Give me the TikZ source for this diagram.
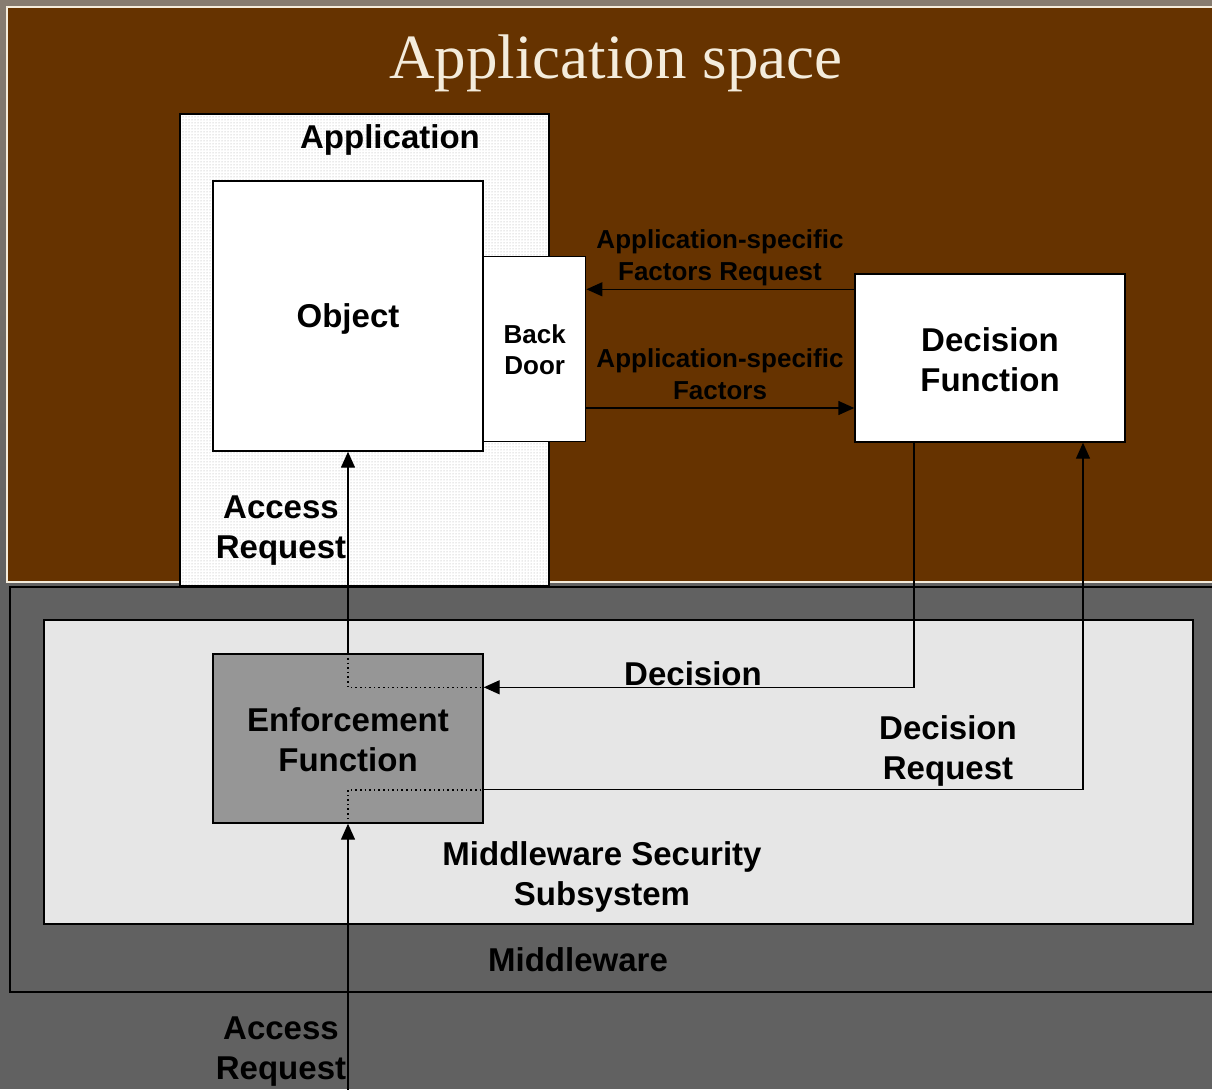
\documentclass[tikz,border=0pt]{standalone}
\usepackage{fontspec}
\setmainfont{Liberation Serif}
\newfontfamily\labelfont{Liberation Sans}
\usetikzlibrary{arrows.meta}
\usetikzlibrary{patterns}
\usetikzlibrary{positioning}
\definecolor{appbrown}{HTML}{663300}
\definecolor{mwgray}{HTML}{616161}
\definecolor{topgray}{HTML}{877C70}
\definecolor{subgray}{HTML}{E6E6E6}
\definecolor{enfgray}{HTML}{969696}
\definecolor{cream}{HTML}{F4ECDC}
\tikzset{
  box/.style={draw=black, line width=1.4pt, fill=white, inner sep=0pt},
  biglabel/.style={font=\labelfont\bfseries\fontsize{33}{40}\selectfont, align=center, text=black, inner sep=0pt},
  smalllabel/.style={font=\labelfont\bfseries\fontsize{26}{31.5}\selectfont, align=center, text=black, inner sep=0pt},
  arr/.style={line width=1.4pt, -{Triangle[length=16pt,width=14pt]}},
  dotline/.style={line width=1.6pt, dash pattern=on 1.6pt off 3pt}
}

\begin{document}
\begin{tikzpicture}[x=1pt,y=-1pt]
    \useasboundingbox (0,0) rectangle (1212,1089);
    \clip (0,0) rectangle (1212,1089);
    % background and the two spaces
    \fill[mwgray] (0,0) rectangle (1212,1089);
    \shade[top color=topgray, bottom color=mwgray] (0,0) rectangle (1212,585);
    \draw[cream, line width=1.5pt, fill=appbrown] (7,7) rectangle (1230,582);
    \node[font=\fontsize{63}{70}\selectfont, text=cream] (title) at (616,63) {Application space};

    \draw[black, line width=1.4pt, fill=mwgray] (10,587) rectangle (1230,992);
    \node[box, fill=subgray, minimum width=1149pt, minimum height=304pt] (mss) at (618.5,772) {};
    \node[biglabel] (mwlabel) at (578,960) {Middleware};
    \node[biglabel] (msslabel) at (602,877) {Middleware Security\\Subsystem};

    % application with object and back door
    \node[box, preaction={fill=white}, pattern=dots, pattern color=gray!70,
          minimum width=369pt, minimum height=472pt] (app) at (364.5,350) {};
    \node[biglabel] (applabel) at (390,140) {Application};
    \node[box, minimum width=270pt, minimum height=270pt] (obj) at (348,316) {};
    \node[biglabel] at ([yshift=-3pt]obj.center) {Object};
    \node[box, minimum width=102pt, minimum height=185pt, anchor=south west] (bd) at (483,442) {};
    \node[smalllabel] at ([yshift=-1pt]bd.center) {Back\\Door};

    \node[box, minimum width=270pt, minimum height=168pt] (decf) at (990,358) {};
    \node[biglabel] at ([yshift=-2pt]decf.center) {Decision\\Function};

    \node[box, fill=enfgray, minimum width=270pt, minimum height=169pt] (enf) at (348,738.5) {};
    \node[biglabel] at ([yshift=-1pt]enf.center) {Enforcement\\Function};

    \coordinate (decin) at ([yshift=-34pt]enf.north east);
    \coordinate (reqout) at ([yshift=34pt]enf.south east);
    \coordinate (src) at (348,1095);

    % connectors
    \draw[arr] ([yshift=-16pt]decf.north west) -- ([yshift=-16pt]decf.north west -| bd.east);
    \draw[arr] ([yshift=34pt]bd.south east) -- ([yshift=34pt]bd.south east -| decf.west);
    \draw[arr] ([xshift=-76pt]decf.south) |- (decin);
    \draw[arr] (reqout) -| ([xshift=93pt]decf.south);
    \draw[dotline] (enf.north) |- (decin);
    \draw[dotline] (enf.south) |- (reqout);
    \draw[arr] (enf.north) -- (obj.south);
    \draw[arr] (src) -- (enf.south);

    \node[smalllabel] at (720,258) {Application-specific\\Factors Request};
    \node[smalllabel] at (720,374) {Application-specific\\Factors};
    \node[biglabel] at (693,674) {Decision};
    \node[biglabel] at (948,751) {Decision\\Request};
    \node[biglabel] at (281,531) {Access\\Request};
    \node[biglabel] at (281,1052) {Access\\Request};
\end{tikzpicture}
\end{document}
